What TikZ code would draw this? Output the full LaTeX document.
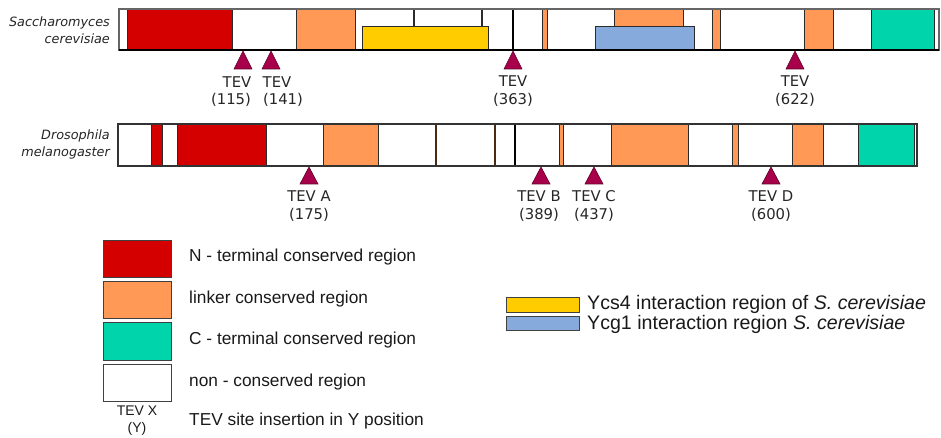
\documentclass[tikz,border=0pt]{standalone}
\usepackage{fontspec}
\setmainfont{DejaVu Sans}
\newfontfamily\arial{Liberation Sans}
\definecolor{nred}{HTML}{D40000}
\definecolor{linker}{HTML}{FF9955}
\definecolor{cteal}{HTML}{00D4AA}
\definecolor{ycs}{HTML}{FFCC00}
\definecolor{ycg}{HTML}{87AADD}
\definecolor{tevc}{HTML}{A8004A}
\definecolor{tevd}{HTML}{5A0025}
\definecolor{segb}{HTML}{2B2B2B}
\definecolor{brownl}{HTML}{4A2A10}
\tikzset{
  seg/.style={draw=segb, line width=0.9pt},
  outer/.style={draw=black!80, line width=1.1pt, fill=white},
  tevtri/.style={fill=tevc, draw=tevd, line width=0.6pt},
  tevlab/.style={font=\fontsize{14.8}{18}\selectfont, align=center, text=black!85, inner sep=0pt},
  species/.style={font=\fontsize{12.8}{17}\selectfont\itshape, align=right, anchor=east, inner sep=0pt, text=black!85},
  legl/.style={font=\arial\fontsize{17.3}{20}\selectfont, anchor=west, inner sep=0pt, text=black!90},
  legr/.style={font=\arial\fontsize{19.6}{22}\selectfont, anchor=west, inner sep=0pt, text=black!90},
  legbox/.style={draw=black!75, line width=0.9pt}
}
\begin{document}
\begin{tikzpicture}[x=1pt,y=-1pt]
\useasboundingbox (0,0) rectangle (941,438);

% ---------- S. cerevisiae bar ----------
\node[species] (sc) at (110,30) {Saccharomyces\\cerevisiae};
\draw[outer] (119,9) rectangle (939,50);
\draw[seg, fill=nred] (127,9) rectangle (232,50);
\draw[seg, fill=linker] (296,9) rectangle (355,50);
\draw[segb, line width=1.3pt] (414,9) -- (414,26);
\draw[segb, line width=1.3pt] (482,9) -- (482,26);
\draw[seg, fill=ycs] (362,26) rectangle (488,50);
\draw[black, line width=1.5pt] (513,9) -- (513,50);
\draw[seg, fill=linker] (542,9) rectangle (547,50);
\draw[seg, fill=linker] (614,9) rectangle (683,26);
\draw[seg, fill=ycg] (595,26) rectangle (694,50);
\draw[seg, fill=linker] (712,9) rectangle (720,50);
\draw[seg, fill=linker] (804,9) rectangle (833,50);
\draw[seg, fill=cteal] (871,9) rectangle (934,50);
\draw[black!60, line width=1.1pt] (119,9) rectangle (939,50);
\draw[black, line width=1.2pt] (119,50) -- (939,50);

% TEV sites (top)
\foreach \x in {243, 271, 513, 795}{
  \draw[tevtri] (\x,51) -- ++(9,18) -- ++(-18,0) -- cycle;
}
\node[tevlab] (t1a) at (237,82) {TEV};
\node[tevlab] (t1b) at (231,100) {(115)};
\node[tevlab] (t2a) at (277,82) {TEV};
\node[tevlab] (t2b) at (283,100) {(141)};
\node[tevlab] (t3) at (513,91) {TEV\\(363)};
\node[tevlab] (t4) at (795,91) {TEV\\(622)};

% ---------- D. melanogaster bar ----------
\node[species] (dm) at (110,144) {Drosophila\\melanogaster};
\draw[outer] (118,124) rectangle (917,166);
\draw[seg, fill=nred] (151,124) rectangle (162,166);
\draw[seg, fill=nred] (177,124) rectangle (266,166);
\draw[seg, fill=linker] (323,124) rectangle (378,166);
\draw[brownl, line width=1.3pt] (436,124) -- (436,166);
\draw[brownl, line width=1.3pt] (495,124) -- (495,166);
\draw[black, line width=1.3pt] (515,124) -- (515,166);
\draw[seg, fill=linker] (559,124) rectangle (563,166);
\draw[seg, fill=linker] (611,124) rectangle (688,166);
\draw[seg, fill=linker] (732,124) rectangle (738,166);
\draw[seg, fill=linker] (792,124) rectangle (823,166);
\draw[seg, fill=cteal] (858,124) rectangle (914,166);
\draw[black!80, line width=1.1pt] (118,124) rectangle (917,166);

% TEV sites (bottom)
\foreach \x/\l/\n/\c in {309/A/175/309, 541/B/389/539, 594/C/437/594, 771/D/600/771}{
  \draw[tevtri] (\x,167) -- ++(9,17) -- ++(-18,0) -- cycle;
  \node[tevlab] (d\l) at (\c,206) {TEV \l\\(\n)};
}

% ---------- legend (left) ----------
\draw[legbox, fill=nred] (103,240) rectangle (171,277);
\draw[legbox, fill=linker] (103,281) rectangle (171,318);
\draw[legbox, fill=cteal] (103,322) rectangle (171,360);
\draw[legbox, fill=white] (103,364) rectangle (171,401);
\node[font=\arial\fontsize{14}{17}\selectfont, align=center, inner sep=0pt, text=black!90] (lt) at (137,421) {TEV X\\(Y)};
\node[legl] (l1) at (189,257) {N - terminal conserved region};
\node[legl] (l2) at (189,299) {linker conserved region};
\node[legl] (l3) at (189,340) {C - terminal conserved region};
\node[legl] (l4) at (189,382) {non - conserved region};
\node[legl] (l5) at (189,421) {TEV site insertion in Y position};

% ---------- legend (right) ----------
\draw[legbox, fill=ycs] (506,297) rectangle (579,312);
\draw[legbox, fill=ycg] (506,316) rectangle (579,330);
\node[legr] (r1) at (587,304) {Ycs4 interaction region of \textit{S. cerevisiae}};
\node[legr] (r2) at (587,324) {Ycg1 interaction region \textit{S. cerevisiae}};
\end{tikzpicture}
\end{document}
